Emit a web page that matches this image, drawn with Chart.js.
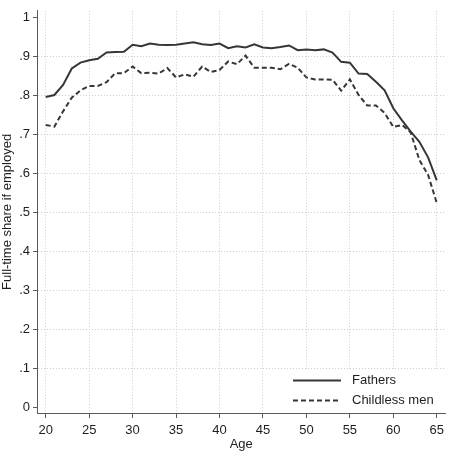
<!DOCTYPE html>
<html lang="en">
<head>
  <meta charset="UTF-8">
  <title>Full-time share by age</title>
  <script src="https://cdn.jsdelivr.net/npm/chart.js"></script>
  <style>
    html, body { margin: 0; padding: 0; background: #fff; }
    #wrap { width: 449px; height: 451px; }
  </style>
</head>
<body>
  <div id="wrap">
    <canvas id="shareChart" width="449" height="451"></canvas>
  </div>

  <script>
    const ages = [20, 21, 22, 23, 24, 25, 26, 27, 28, 29,
                  30, 31, 32, 33, 34, 35, 36, 37, 38, 39,
                  40, 41, 42, 43, 44, 45, 46, 47, 48, 49,
                  50, 51, 52, 53, 54, 55, 56, 57, 58, 59,
                  60, 61, 62, 63, 64, 65];

    const fathers = [.797, .802, .828, .870, .885, .891, .895, .911, .912, .913,
                     .931, .927, .934, .931, .930, .931, .934, .937, .932, .930,
                     .934, .922, .927, .924, .932, .924, .922, .925, .929, .917,
                     .919, .917, .919, .911, .887, .885, .857, .856, .836, .814,
                     .768, .737, .708, .682, .642, .583];

    const childless = [.725, .721, .760, .795, .814, .825, .825, .835, .858, .858,
                       .875, .858, .859, .857, .871, .847, .855, .849, .875, .861,
                       .866, .888, .881, .903, .872, .872, .872, .868, .882, .872,
                       .847, .842, .842, .841, .813, .842, .802, .775, .775, .756,
                       .720, .725, .706, .635, .597, .525];

    const xTicks = [20, 25, 30, 35, 40, 45, 50, 55, 60, 65];
    const yTicks = [0, .1, .2, .3, .4, .5, .6, .7, .8, .9, 1];
    const yTickLabels = ["0", ".1", ".2", ".3", ".4", ".5", ".6", ".7", ".8", ".9", "1"];

    const lineColor = "#363636";
    const gridColor = "#cfcfcf";
    const axisColor = "#5a5a5a";
    const textColor = "#1e1e1e";
    const fontFamily = "'Liberation Sans', Arial, sans-serif";

    // legend sits inside the plot, lower right, on a white patch
    const insideLegend = {
      id: "insideLegend",
      afterDraw(chart) {
        const ctx = chart.ctx;
        ctx.save();
        ctx.fillStyle = "#fff";
        ctx.fillRect(286, 369, 163, 43);
        ctx.font = "13px " + fontFamily;
        ctx.textBaseline = "middle";
        chart.data.datasets.forEach((ds, i) => {
          const y = 380.5 + i * 20;
          ctx.strokeStyle = ds.borderColor;
          ctx.lineWidth = ds.borderWidth;
          ctx.setLineDash(ds.borderDash || []);
          ctx.beginPath();
          ctx.moveTo(293, y);
          ctx.lineTo(341, y);
          ctx.stroke();
          ctx.setLineDash([]);
          ctx.fillStyle = textColor;
          ctx.fillText(ds.label, 352, y);
        });
        ctx.restore();
      }
    };

    new Chart(document.getElementById("shareChart"), {
      type: "line",
      data: {
        datasets: [{
          label: "Fathers",
          data: ages.map((a, i) => ({ x: a, y: fathers[i] })),
          borderColor: lineColor,
          borderWidth: 2,
          pointRadius: 0,
          tension: 0
        }, {
          label: "Childless men",
          data: ages.map((a, i) => ({ x: a, y: childless[i] })),
          borderColor: lineColor,
          borderWidth: 2,
          borderDash: [5, 3],
          pointRadius: 0,
          tension: 0
        }]
      },
      options: {
        responsive: false,
        devicePixelRatio: 1,
        animation: false,
        layout: { padding: 0 },
        plugins: {
          legend: { display: false },
          tooltip: { enabled: false }
        },
        scales: {
          x: {
            type: "linear",
            min: 19,
            max: 66,
            afterBuildTicks: scale => { scale.ticks = xTicks.map(v => ({ value: v })); },
            afterFit: scale => { scale.height = 38; },
            ticks: {
              color: textColor,
              font: { family: fontFamily, size: 13 },
              padding: 5,
              maxRotation: 0,
              autoSkip: false
            },
            grid: {
              color: gridColor,
              lineWidth: 1,
              tickLength: 5,
              tickColor: axisColor,
              tickWidth: 1
            },
            border: { color: axisColor, width: 1, dash: [1, 2] },
            title: {
              display: true,
              text: "Age",
              color: textColor,
              font: { family: fontFamily, size: 13, lineHeight: 1 },
              padding: 0
            }
          },
          y: {
            min: -0.014,
            max: 1.018,
            afterBuildTicks: scale => { scale.ticks = yTicks.map(v => ({ value: v })); },
            afterFit: scale => { scale.width = 37; },
            ticks: {
              color: textColor,
              font: { family: fontFamily, size: 13 },
              padding: 3,
              callback: (value, index) => yTickLabels[index]
            },
            grid: {
              color: c => (c.tick && (c.tick.value === 0 || c.tick.value === 1)) ? "rgba(0,0,0,0)" : gridColor,
              lineWidth: 1,
              tickLength: 4,
              tickColor: axisColor,
              tickWidth: 1
            },
            border: { color: axisColor, width: 1, dash: [1, 2] },
            title: {
              display: true,
              text: "Full-time share if employed",
              color: textColor,
              font: { family: fontFamily, size: 13, lineHeight: 1.2 },
              padding: 0
            }
          }
        }
      },
      plugins: [insideLegend]
    });
  </script>
</body>
</html>
